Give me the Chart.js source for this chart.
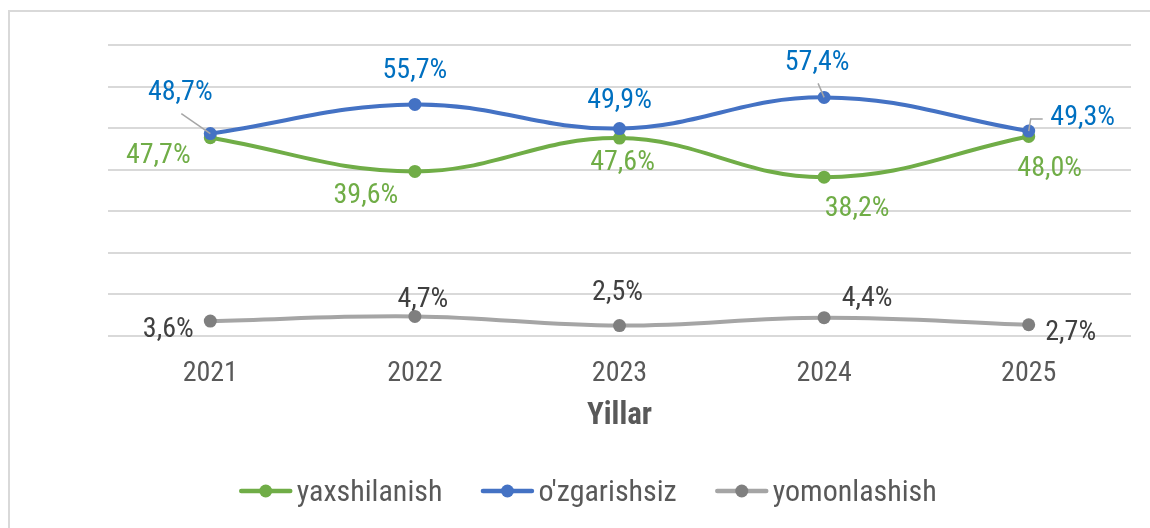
<!DOCTYPE html>
<html>
<head>
<meta charset="utf-8">
<script src="https://cdn.jsdelivr.net/npm/chart.js@4.4.1/dist/chart.umd.min.js"></script>
<style>
  html, body { margin: 0; padding: 0; background: #fff; }
  #wrap { width: 1150px; height: 528px; }
</style>
</head>
<body>
<div id="wrap"><canvas id="chart" width="1150" height="528"></canvas></div>
<script>
(function () {
  const years = ["2021", "2022", "2023", "2024", "2025"];
  const yaxshilanish = [47.7, 39.6, 47.6, 38.2, 48.0];
  const ozgarishsiz = [48.7, 55.7, 49.9, 57.4, 49.3];
  const yomonlashish = [3.6, 4.7, 2.5, 4.4, 2.7];
  const seriesNames = ["yaxshilanish", "o'zgarishsiz", "yomonlashish"];
  const yMin = 0;
  const yMax = 70;
  const yStep = 10;
  const axisTitle = "Yillar";

  const FONT = "'Roboto Condensed', 'Liberation Sans Narrow', Roboto, sans-serif";
  const FS = 28;

  // label placement (pixel offsets from each point), roughly as in the original
  const labelOffsets = [
    [[-52, 18], [-49, 25], [3, 25], [33, 32], [21, 33]],
    [[-30, -41], [0, -33], [0, -28], [-7, -34], [54, -13]],
    [[-42, 9], [8, -16], [-2, -33], [43, -19], [42, 8]],
  ];
  const leaders = [
    { ds: 1, i: 0, path: [[-29, -20]] },
    { ds: 1, i: 3, path: [[-6, -14]] },
    { ds: 1, i: 4, path: [[2, -12], [14, -12]] },
  ];
  const labelColors = ["#70AD47", "#0070C0", "#404040"];

  const fmt = (v) => v.toFixed(1).replace(".", ",") + "%";

  const borderPlugin = {
    id: "frame",
    beforeDraw(chart) {
      const ctx = chart.ctx;
      ctx.save();
      ctx.strokeStyle = "#d9d9d9";
      ctx.lineWidth = 2;
      ctx.strokeRect(9, 11, 1300, 700);
      ctx.restore();
    },
  };

  const labelPlugin = {
    id: "valueLabels",
    afterDatasetsDraw(chart) {
      const ctx = chart.ctx;
      ctx.save();
      ctx.strokeStyle = "#a6a6a6";
      ctx.lineWidth = 1.5;
      leaders.forEach((l) => {
        const el = chart.getDatasetMeta(l.ds).data[l.i];
        ctx.beginPath();
        ctx.moveTo(el.x, el.y);
        l.path.forEach((p) => ctx.lineTo(el.x + p[0], el.y + p[1]));
        ctx.stroke();
      });
      ctx.font = FS + "px " + FONT;
      ctx.textAlign = "center";
      ctx.textBaseline = "middle";
      chart.data.datasets.forEach((ds, d) => {
        const meta = chart.getDatasetMeta(d);
        ctx.fillStyle = labelColors[d];
        meta.data.forEach((el, i) => {
          const off = labelOffsets[d][i];
          ctx.fillText(fmt(ds.data[i]), el.x + off[0], el.y + off[1]);
        });
      });
      ctx.restore();
    },
  };

  const legendPlugin = {
    id: "lineLegend",
    afterDraw(chart) {
      const ctx = chart.ctx;
      ctx.save();
      ctx.font = "30px " + FONT;
      ctx.textBaseline = "middle";
      ctx.textAlign = "left";
      const mark = 53, gap = 4.5, between = 38.5;
      const ds = chart.data.datasets;
      let total = 0;
      ds.forEach((d, i) => {
        total += mark + gap + ctx.measureText(d.label).width;
        if (i < ds.length - 1) total += between;
      });
      let x = (chart.width - total) / 2 + 13;
      const y = 491;
      ds.forEach((d) => {
        ctx.strokeStyle = d.borderColor;
        ctx.lineWidth = 4.5;
        ctx.lineCap = "round";
        ctx.beginPath();
        ctx.moveTo(x + 2, y);
        ctx.lineTo(x + mark - 2, y);
        ctx.stroke();
        ctx.fillStyle = d.pointBackgroundColor;
        ctx.beginPath();
        ctx.arc(x + mark / 2, y, 6.5, 0, Math.PI * 2);
        ctx.fill();
        ctx.fillStyle = "#595959";
        ctx.fillText(d.label, x + mark + gap, y + 2);
        x += mark + gap + ctx.measureText(d.label).width + between;
      });
      ctx.restore();
    },
  };

  const ctx = document.getElementById("chart").getContext("2d");
  new Chart(ctx, {
    type: "line",
    data: {
      labels: years,
      datasets: [
        {
          label: seriesNames[0],
          data: yaxshilanish,
          borderColor: "#70AD47",
          pointBackgroundColor: "#70AD47",
          pointBorderColor: "#70AD47",
          order: 1,
        },
        {
          label: seriesNames[1],
          data: ozgarishsiz,
          borderColor: "#4472C4",
          pointBackgroundColor: "#4472C4",
          pointBorderColor: "#4472C4",
          order: 0,
        },
        {
          label: seriesNames[2],
          data: yomonlashish,
          borderColor: "#A5A5A5",
          pointBackgroundColor: "#7F7F7F",
          pointBorderColor: "#7F7F7F",
          order: 2,
        },
      ],
    },
    options: {
      responsive: false,
      animation: false,
      events: [],
      layout: { padding: { left: 108, right: 19, top: 45, bottom: 93.4 } },
      elements: {
        line: { borderWidth: 4, tension: 0.4, fill: false },
        point: { radius: 6.5, borderWidth: 0 },
      },
      plugins: {
        legend: { display: false },
        tooltip: { enabled: false },
      },
      scales: {
        x: {
          offset: true,
          grid: { display: false, drawTicks: false },
          border: { display: false },
          ticks: { color: "#595959", font: { family: FONT, size: FS }, padding: 21 },
          title: {
            display: true,
            text: axisTitle,
            color: "#595959",
            font: { family: FONT, size: 31, weight: "bold" },
            padding: { top: -14.2, bottom: 0 },
          },
        },
        y: {
          min: yMin,
          max: yMax,
          ticks: { display: false, stepSize: yStep },
          grid: { color: "#d9d9d9", lineWidth: 2, drawTicks: false },
          border: { display: false },
        },
      },
    },
    plugins: [borderPlugin, labelPlugin, legendPlugin],
  });
})();
</script>
</body>
</html>
